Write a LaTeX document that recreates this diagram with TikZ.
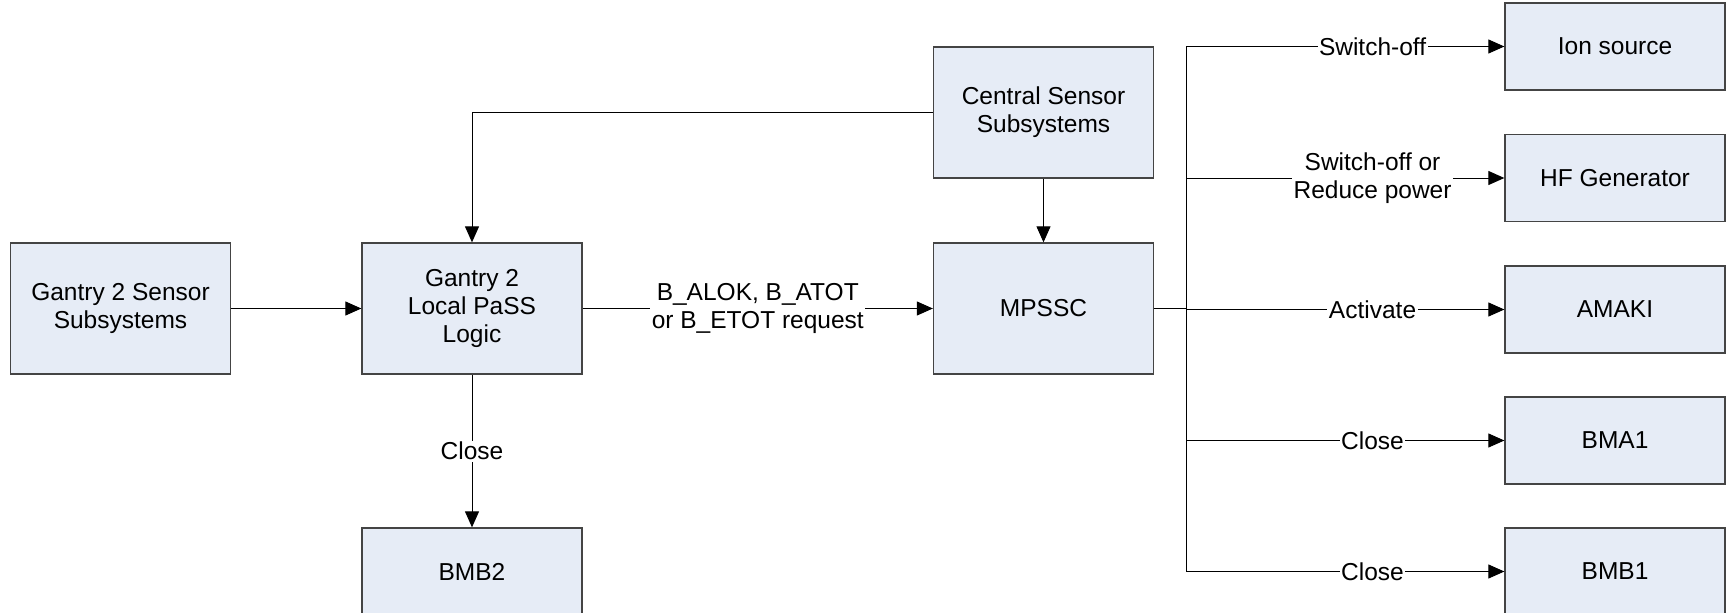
\documentclass[tikz,border=0pt]{standalone}
\usepackage{fontspec}
\setmainfont{Liberation Sans}
\usetikzlibrary{arrows.meta,positioning}
\definecolor{boxfill}{HTML}{E6ECF6}
\definecolor{boxline}{HTML}{444444}
\tikzset{
  blk/.style={draw=boxline, line width=1.3pt, fill=boxfill, minimum width=220pt, inner sep=0pt, align=center, font=\fontsize{24.5}{28.3}\selectfont},
  bigblk/.style={blk, minimum height=131pt},
  smallblk/.style={blk, minimum height=87pt},
  conn/.style={draw=black, line width=1pt},
  arr/.style={conn, -{Triangle[length=16pt, width=14pt]}},
  lbl/.style={fill=white, inner sep=1.5pt, align=center, font=\fontsize{24.5}{28.3}\selectfont}
}
\begin{document}
\begin{tikzpicture}[x=1pt, y=-1pt]
\useasboundingbox (0,0) rectangle (1727,613);
\node[bigblk] (g2s) at (120.5,308.5) {Gantry 2 Sensor\\Subsystems};
\node[bigblk] (loc) at (472,308.5) {Gantry 2\\Local PaSS\\Logic};
\node[bigblk] (css) at (1043.5,112.5) {Central Sensor\\Subsystems};
\node[bigblk] (mps) at (1043.5,308.5) {MPSSC};
\node[smallblk] (bmb2) at (472,571.5) {BMB2};
\node[smallblk] (ion) at (1615,46.5) {Ion source};
\node[smallblk] (hf) at (1615,178) {HF Generator};
\node[smallblk] (amaki) at (1615,309.5) {AMAKI};
\node[smallblk] (bma1) at (1615,440.5) {BMA1};
\node[smallblk] (bmb1) at (1615,571.5) {BMB1};
\coordinate (jx) at (1186,0);

\draw[arr] (g2s.east) -- (loc.west);
\draw[arr] (css.west) -| (loc.north);
\draw[arr] (css.south) -- (mps.north);
\draw[arr] (loc.east) -- node[lbl] {B\_ALOK, B\_ATOT\\or B\_ETOT request} (mps.west);
\draw[arr] (loc.south) -- node[lbl] {Close} (bmb2.north);

\draw[conn] (mps.east) -- (mps.east -| jx);
\draw[conn] (jx |- ion.west) -- (jx |- bmb1.west);
\draw[arr] (jx |- ion.west) -- node[lbl, pos=0.586] {Switch-off} (ion.west);
\draw[arr] (jx |- hf.west) -- node[lbl, pos=0.586] {Switch-off or\\Reduce power} (hf.west);
\draw[arr] (jx |- amaki.west) -- node[lbl, pos=0.586] {Activate} (amaki.west);
\draw[arr] (jx |- bma1.west) -- node[lbl, pos=0.586] {Close} (bma1.west);
\draw[arr] (jx |- bmb1.west) -- node[lbl, pos=0.586] {Close} (bmb1.west);
\end{tikzpicture}
\end{document}
